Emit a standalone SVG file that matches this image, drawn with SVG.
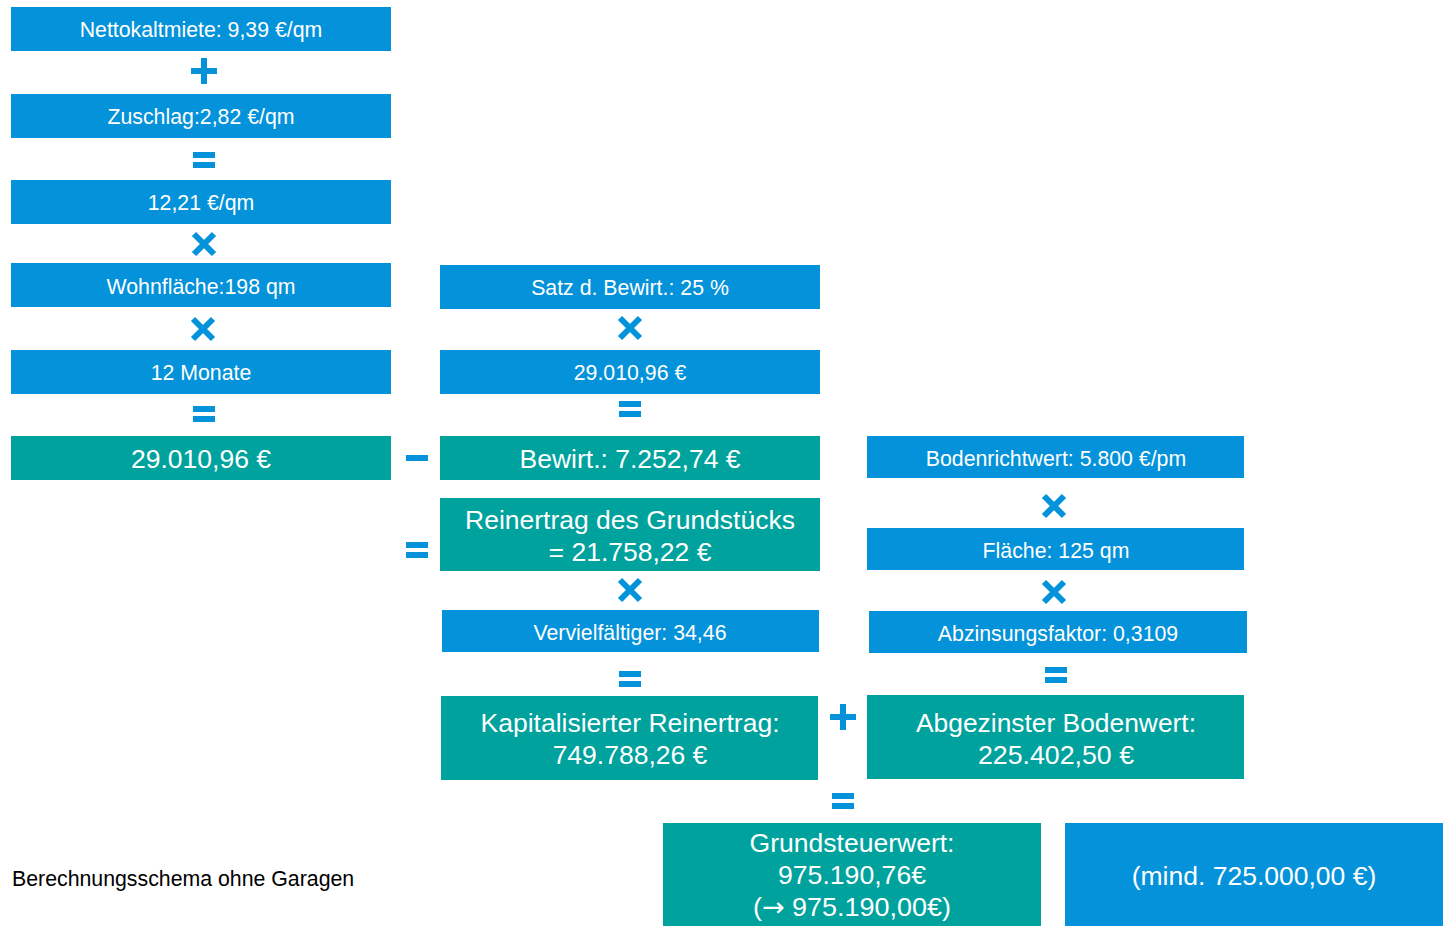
<svg xmlns="http://www.w3.org/2000/svg" width="1451" height="926" viewBox="0 0 1451 926">
  <style>
    .blue { fill: #0492DA; }
    .teal { fill: #00A29E; }
    .op { fill: #0492DA; }
    text { font-family: "Liberation Sans", Arial, sans-serif; fill: #ffffff; text-anchor: middle; }
    .s { font-size: 21.3px; }
    .l { font-size: 26.5px; }
    .cap { fill: #000000; text-anchor: start; font-size: 21.3px; }
  </style>
  <defs>
    <g id="plus"><rect x="-13" y="-3" width="26" height="6"/><rect x="-3" y="-13" width="6" height="26"/></g>
    <g id="eq"><rect x="-11" y="-8" width="22" height="6"/><rect x="-11" y="2" width="22" height="6"/></g>
    <g id="times"><path d="M-10 -10 L10 10 M10 -10 L-10 10" stroke="#0492DA" stroke-width="6"/></g>
    <g id="minus"><rect x="-11" y="-3" width="22" height="6"/></g>
  </defs>

  <!-- left column: rent calculation -->
  <g id="n-nettokaltmiete"><rect class="blue" x="11" y="7" width="380" height="44"/><text class="s" x="201" y="37">Nettokaltmiete: 9,39 €/qm</text></g>
  <g id="n-zuschlag"><rect class="blue" x="11" y="94" width="380" height="44"/><text class="s" x="201" y="124">Zuschlag:2,82 €/qm</text></g>
  <g id="n-qm"><rect class="blue" x="11" y="180" width="380" height="44"/><text class="s" x="201" y="210">12,21 €/qm</text></g>
  <g id="n-wohnflaeche"><rect class="blue" x="11" y="263" width="380" height="44"/><text class="s" x="201" y="294">Wohnfläche:198 qm</text></g>
  <g id="n-monate"><rect class="blue" x="11" y="350" width="380" height="44"/><text class="s" x="201" y="380">12 Monate</text></g>
  <g id="n-rohertrag"><rect class="teal" x="11" y="436" width="380" height="44"/><text class="l" x="201" y="468">29.010,96 €</text></g>

  <!-- middle column: management costs and capitalised yield -->
  <g id="n-satz"><rect class="blue" x="440" y="265" width="380" height="44"/><text class="s" x="630" y="295">Satz d. Bewirt.: 25 %</text></g>
  <g id="n-rohertrag2"><rect class="blue" x="440" y="350" width="380" height="44"/><text class="s" x="630" y="380">29.010,96 €</text></g>
  <g id="n-bewirt"><rect class="teal" x="440" y="436" width="380" height="44"/><text class="l" x="630" y="468">Bewirt.: 7.252,74 €</text></g>
  <g id="n-reinertrag"><rect class="teal" x="440" y="498" width="380" height="73"/><text class="l" x="630" y="529">Reinertrag des Grundstücks</text><text class="l" x="630" y="561">= 21.758,22 €</text></g>
  <g id="n-vervielfaeltiger"><rect class="blue" x="442" y="610" width="377" height="42"/><text class="s" x="630" y="640">Vervielfältiger: 34,46</text></g>
  <g id="n-kapitalisiert"><rect class="teal" x="441" y="696" width="377" height="84"/><text class="l" x="630" y="732">Kapitalisierter Reinertrag:</text><text class="l" x="630" y="764">749.788,26 €</text></g>

  <!-- right column: land value -->
  <g id="n-bodenrichtwert"><rect class="blue" x="867" y="436" width="377" height="42"/><text class="s" x="1056" y="466">Bodenrichtwert: 5.800 €/pm</text></g>
  <g id="n-flaeche"><rect class="blue" x="867" y="528" width="377" height="42"/><text class="s" x="1056" y="558">Fläche: 125 qm</text></g>
  <g id="n-abzinsung"><rect class="blue" x="869" y="611" width="378" height="42"/><text class="s" x="1058" y="641">Abzinsungsfaktor: 0,3109</text></g>
  <g id="n-bodenwert"><rect class="teal" x="867" y="695" width="377" height="84"/><text class="l" x="1056" y="732" textLength="280" lengthAdjust="spacingAndGlyphs">Abgezinster Bodenwert:</text><text class="l" x="1056" y="764" textLength="156" lengthAdjust="spacingAndGlyphs">225.402,50 €</text></g>

  <!-- result -->
  <g id="n-grundsteuerwert"><rect class="teal" x="663" y="823" width="378" height="103"/><text class="l" x="852" y="852" textLength="205" lengthAdjust="spacingAndGlyphs">Grundsteuerwert:</text><text class="l" x="852" y="884" textLength="148" lengthAdjust="spacingAndGlyphs">975.190,76€</text><text class="l" x="852" y="916" textLength="198" lengthAdjust="spacingAndGlyphs">(<tspan font-family="DejaVu Sans">→</tspan> 975.190,00€)</text></g>
  <g id="n-mindestwert"><rect class="blue" x="1065" y="823" width="378" height="103"/><text class="l" x="1254" y="885">(mind. 725.000,00 €)</text></g>

  <text class="cap" x="12" y="886">Berechnungsschema ohne Garagen</text>

  <!-- operators between the boxes -->
  <g id="operators" class="op">
    <use href="#plus" x="204" y="71"/>
    <use href="#eq" x="204" y="160"/>
    <use href="#times" x="204" y="244"/>
    <use href="#times" x="203" y="329"/>
    <use href="#eq" x="204" y="414"/>
    <use href="#minus" x="417" y="458"/>
    <use href="#eq" x="417" y="550"/>
    <use href="#times" x="630" y="328"/>
    <use href="#eq" x="630" y="409"/>
    <use href="#times" x="630" y="590"/>
    <use href="#eq" x="630" y="679"/>
    <use href="#times" x="1054" y="506"/>
    <use href="#times" x="1054" y="592"/>
    <use href="#eq" x="1056" y="675"/>
    <use href="#plus" x="843" y="717"/>
    <use href="#eq" x="843" y="801"/>
  </g>
</svg>
